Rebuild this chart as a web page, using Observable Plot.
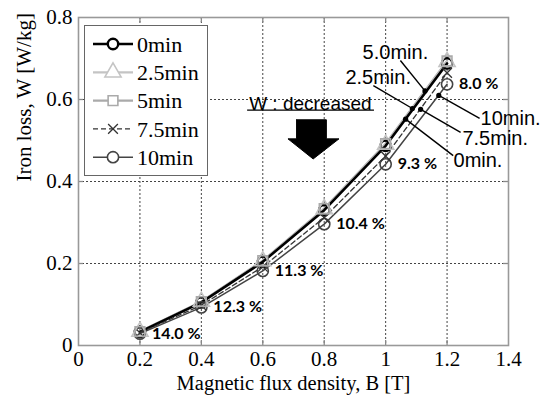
<!DOCTYPE html>
<html>
<head>
<meta charset="utf-8">
<script src="https://cdn.jsdelivr.net/npm/d3@7"></script>
<script src="https://cdn.jsdelivr.net/npm/@observablehq/plot@0.6"></script>
<style>
  body { margin: 0; background: white; }
  #wrap { position: relative; width: 545px; height: 401px; }
  #legend { position: absolute; left: 84px; top: 25px; width: 124px; height: 151px;
            box-sizing: border-box; border: 1px solid #666; background: white; }
</style>
</head>
<body>
<div id="wrap"><div id="legend"></div></div>
<script>
// ---- data ----
const fluxB = [0.2, 0.4, 0.6, 0.8, 1.0, 1.2];
const seriesNames = ["0min", "2.5min", "5min", "7.5min", "10min"];
const loss0 = [0.033, 0.105, 0.204, 0.330, 0.487, 0.688];
const loss25 = [0.034, 0.107, 0.206, 0.333, 0.490, 0.692];
const loss5 = [0.034, 0.107, 0.207, 0.334, 0.492, 0.694];
const loss75 = [0.031, 0.098, 0.192, 0.312, 0.462, 0.665];
const loss10 = [0.029, 0.093, 0.182, 0.296, 0.442, 0.637];
const reductionLabels = ["14.0 %", "12.3 %", "11.3 %", "10.4 %", "9.3 %", "8.0 %"];
const xTicks = [0, 0.2, 0.4, 0.6, 0.8, 1.0, 1.2, 1.4];
const xTickLabels = ["0", "0.2", "0.4", "0.6", "0.8", "1", "1.2", "1.4"];
const yTicks = [0, 0.2, 0.4, 0.6, 0.8];
const yTickLabels = ["0", "0.2", "0.4", "0.6", "0.8"];
const xLabel = "Magnetic flux density, B [T]";
const yLabel = "Iron loss, W [W/kg]";
// annotations (data coordinates)
const calloutText = ["5.0min.", "2.5min.", "10min.", "7.5min.", "0min."];
const calloutTextB = [0.925, 0.869, 1.309, 1.250, 1.221];
const calloutTextW = [0.715, 0.654, 0.554, 0.505, 0.451];
const calloutFromB = [1.048, 0.960, 1.306, 1.244, 1.220];
const calloutFromW = [0.695, 0.634, 0.554, 0.520, 0.463];
const calloutToB = [1.128, 1.087, 1.173, 1.114, 1.065];
const calloutToW = [0.621, 0.578, 0.610, 0.576, 0.552];
const noteText = "W : decreased";
const noteB = 0.755, noteW = 0.590;
const noteLineB = [0.549, 0.962], noteLineW = 0.574;
const arrowB = [0.710, 0.807, 0.807, 0.848, 0.764, 0.682, 0.710, 0.710];
const arrowW = [0.5505, 0.5505, 0.504, 0.504, 0.455, 0.504, 0.504, 0.5505];

// ---- styles ----
const SERIF = "'Liberation Serif', 'DejaVu Serif', serif";
const styles = {
  "0min":   {stroke: "#000", strokeWidth: 2.6, dash: null, symbol: "circle", r: 5.2, mw: 2.4},
  "2.5min": {stroke: "#c4c4c4", strokeWidth: 2.2, dash: null, symbol: "triangle", r: 6, mw: 1.6},
  "5min":   {stroke: "#aaaaaa", strokeWidth: 2.2, dash: null, symbol: "square", r: 5.5, mw: 1.6},
  "7.5min": {stroke: "#333", strokeWidth: 1.3, dash: "5,3", symbol: "times", r: 4.5, mw: 1.3},
  "10min":  {stroke: "#444", strokeWidth: 1.5, dash: null, symbol: "circle", r: 5.6, mw: 1.6}
};
const lossBySeries = {"0min": loss0, "2.5min": loss25, "5min": loss5, "7.5min": loss75, "10min": loss10};
const rowsFor = name => fluxB.map((b, i) => ({B: b, W: lossBySeries[name][i]}));

const lineOrder = ["5min", "2.5min", "0min", "7.5min", "10min"];
const dotOrder = ["0min", "10min", "7.5min", "2.5min", "5min"];

const lineMarks = lineOrder.map(n => Plot.line(rowsFor(n), {
  x: "B", y: "W", stroke: styles[n].stroke, strokeWidth: styles[n].strokeWidth,
  strokeDasharray: styles[n].dash ?? undefined
}));
const dotMarks = dotOrder.map(n => Plot.dot(rowsFor(n), {
  x: "B", y: "W", symbol: () => styles[n].symbol, r: styles[n].r,
  stroke: styles[n].stroke, strokeWidth: styles[n].mw, fill: "none"
}));

const xFmt = new Map(xTicks.map((t, i) => [t, xTickLabels[i]]));
const yFmt = new Map(yTicks.map((t, i) => [t, yTickLabels[i]]));
const callouts = calloutText.map((t, i) => ({t, tx: calloutTextB[i], ty: calloutTextW[i],
  x1: calloutFromB[i], y1: calloutFromW[i], x2: calloutToB[i], y2: calloutToW[i]}));
const pct = fluxB.map((b, i) => ({B: b, W: loss10[i], t: reductionLabels[i]}));
const arrow = arrowB.map((b, i) => ({B: b, W: arrowW[i]}));

// inward tick length (about 5 px) expressed in each scale's units
const xMax = xTicks[xTicks.length - 1], yMax = yTicks[yTicks.length - 1];
const tickLenY = yMax * 5 / 328, tickLenX = xMax * 5 / 430;
const innerX = xTicks.slice(1, -1), innerY = yTicks.slice(1, -1);
const tickStyle = {stroke: "#888", strokeWidth: 1.3};

const chart = Plot.plot({
  width: 545, height: 401,
  marginLeft: 78, marginRight: 37, marginTop: 17, marginBottom: 56,
  x: {domain: [0, xMax]},
  y: {domain: [0, yMax]},
  style: {fontFamily: SERIF, background: "white", color: "#000"},
  marks: [
    Plot.gridX(innerX, {stroke: "#444", strokeOpacity: 1, strokeWidth: 1, strokeDasharray: "2,2"}),
    Plot.gridY(innerY, {stroke: "#444", strokeOpacity: 1, strokeWidth: 1, strokeDasharray: "2,2"}),
    Plot.ruleX(innerX, {x: d => d, y1: 0, y2: tickLenY, ...tickStyle}),
    Plot.ruleX(innerX, {x: d => d, y1: yMax, y2: yMax - tickLenY, ...tickStyle}),
    Plot.ruleY(innerY, {y: d => d, x1: 0, x2: tickLenX, ...tickStyle}),
    Plot.ruleY(innerY, {y: d => d, x1: xMax, x2: xMax - tickLenX, ...tickStyle}),
    Plot.frame({stroke: "#999", strokeWidth: 1.6}),
    Plot.axisX(xTicks, {anchor: "bottom", tickSize: 0, tickPadding: 6, fontSize: 21, fontFamily: SERIF,
      tickFormat: d => xFmt.get(d), label: null}),
    Plot.axisY(yTicks, {anchor: "left", tickSize: 0, tickPadding: 6, fontSize: 21, fontFamily: SERIF,
      tickFormat: d => yFmt.get(d), label: null}),
    Plot.text([xLabel], {frameAnchor: "bottom", dy: 44.5, fontSize: 20.5, fontFamily: SERIF}),
    Plot.text([yLabel], {frameAnchor: "left", dx: -54, rotate: -90, fontSize: 21, fontFamily: SERIF}),
    ...lineMarks,
    ...dotMarks,
    Plot.text(pct, {x: "B", y: "W", text: "t", dx: 12, textAnchor: "start", fontSize: 16,
      fontWeight: "bold", fontFamily: "Lato"}),
    Plot.link(callouts, {x1: "x1", y1: "y1", x2: "x2", y2: "y2", stroke: "#000", strokeWidth: 1.4}),
    Plot.dot(callouts, {x: "x2", y: "y2", r: 2.6, fill: "#000"}),
    Plot.text(callouts, {x: "tx", y: "ty", text: "t", textAnchor: "start", fontSize: 20,
      fontFamily: "Liberation Sans"}),
    Plot.text([noteText], {x: () => noteB, y: () => noteW, fontSize: 19, fontFamily: "Liberation Sans"}),
    Plot.link([noteLineB], {x1: d => d[0], x2: d => d[1], y1: () => noteLineW, y2: () => noteLineW,
      stroke: "#000", strokeWidth: 1.2}),
    Plot.line(arrow, {x: "B", y: "W", fill: "#000", stroke: "#000", strokeWidth: 1})
  ]
});
document.getElementById("wrap").prepend(chart);

// ---- legend ----
const leg = d3.select("#legend").append("svg").attr("width", 122).attr("height", 149)
  .style("display", "block");
const symbolPath = {
  circle: d3.symbolCircle, triangle: d3.symbolTriangle, square: d3.symbolSquare, times: d3.symbolTimes
};
seriesNames.forEach((n, i) => {
  const s = styles[n];
  const cy = 18 + i * 28.3;
  const g = leg.append("g");
  g.append("line").attr("x1", 8).attr("x2", 48).attr("y1", cy).attr("y2", cy)
    .attr("stroke", s.stroke).attr("stroke-width", s.strokeWidth)
    .attr("stroke-dasharray", s.dash);
  g.append("path").attr("transform", `translate(28,${cy})`)
    .attr("d", d3.symbol(symbolPath[s.symbol], Math.PI * s.r * s.r)())
    .attr("fill", "white").attr("stroke", s.stroke).attr("stroke-width", s.mw);
  g.append("text").attr("x", 52).attr("y", cy).attr("dy", "0.35em")
    .style("font-family", SERIF).attr("font-size", 22).text(n);
});
</script>
</body>
</html>
